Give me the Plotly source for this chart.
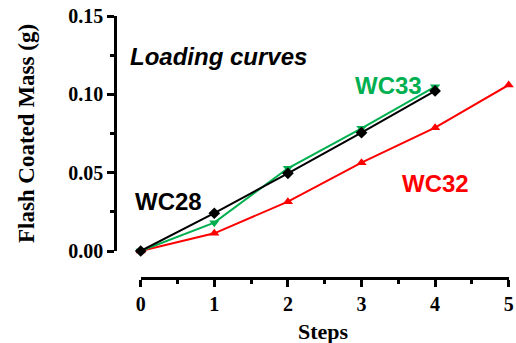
import plotly.graph_objects as go

# Loading curves: flash coated mass per coating step
steps_28 = [0, 1, 2, 3, 4]
mass_28 = [0.0, 0.0241, 0.0496, 0.0755, 0.1022]

steps_33 = [0, 1, 2, 3, 4]
mass_33 = [0.0, 0.0181, 0.0528, 0.0783, 0.1049]

steps_32 = [0, 1, 2, 3, 4, 5]
mass_32 = [0.0, 0.0113, 0.0315, 0.0564, 0.0787, 0.1060]

x_ticks = [0, 1, 2, 3, 4, 5]
y_ticks = [0.0, 0.05, 0.10, 0.15]
y_tick_text = ["0.00", "0.05", "0.10", "0.15"]

W, H = 516, 343
GREEN = "#00B050"
RED = "#FF0000"
BLACK = "#000000"

fig = go.Figure()

fig.add_trace(go.Scatter(
    x=steps_32, y=mass_32, mode="lines+markers", name="WC32",
    line=dict(color=RED, width=2),
    marker=dict(symbol="triangle-up", size=9, color=RED),
    cliponaxis=False,
))
fig.add_trace(go.Scatter(
    x=steps_33, y=mass_33, mode="lines+markers", name="WC33",
    line=dict(color=GREEN, width=2),
    marker=dict(symbol="triangle-down", size=9, color=GREEN),
    cliponaxis=False,
))
fig.add_trace(go.Scatter(
    x=steps_28, y=mass_28, mode="lines+markers", name="WC28",
    line=dict(color=BLACK, width=2),
    marker=dict(symbol="diamond", size=9, color=BLACK),
    cliponaxis=False,
))

tick_font = dict(family="Liberation Serif", size=20, color="black")

# Offset (detached) axes: y axis left of x = 0, x axis below y = 0
fig.update_layout(
    width=W, height=H,
    margin=dict(l=0, r=0, t=0, b=0),
    paper_bgcolor="white", plot_bgcolor="white",
    showlegend=False,
    xaxis=dict(
        domain=[140.7 / W, 508.7 / W],
        range=[0, 5],
        anchor="free", position=(H - 278) / H,
        showgrid=False, zeroline=False,
        showline=True, linecolor="black", linewidth=2.5,
        tickmode="array", tickvals=x_ticks,
        ticktext=["<b>%d</b>" % v for v in x_ticks],
        ticks="outside", ticklen=7, tickwidth=2.5, tickcolor="black",
        minor=dict(dtick=0.5, ticks="outside", ticklen=4, tickwidth=2.5,
                   tickcolor="black", showgrid=False),
        tickfont=tick_font,
        automargin=False,
    ),
    yaxis=dict(
        domain=[(H - 251) / H, (H - 16) / H],
        range=[0, 0.15],
        anchor="free", position=115 / W,
        showgrid=False, zeroline=False,
        showline=True, linecolor="black", linewidth=2.5,
        tickmode="array", tickvals=y_ticks,
        ticktext=["<b>%s</b>" % t for t in y_tick_text],
        ticks="outside", ticklen=7, tickwidth=2.5, tickcolor="black",
        minor=dict(dtick=0.025, ticks="outside", ticklen=4, tickwidth=2.5,
                   tickcolor="black", showgrid=False),
        tickfont=tick_font,
        title=dict(text="<b>Flash Coated Mass (g)</b>",
                   font=dict(family="Liberation Serif", size=23, color="black"),
                   standoff=26),
        automargin=False,
    ),
)

# x-axis title placed as paper text close to the bottom edge
fig.add_annotation(
    x=323.5 / W, y=(H - 331.5) / H, xref="paper", yref="paper",
    text="<b>Steps</b>", showarrow=False,
    font=dict(family="Liberation Serif", size=22, color="black"),
    xanchor="center", yanchor="middle",
)

label_font = "Liberation Sans"
fig.add_annotation(
    x=218 / W, y=(H - 57) / H, xref="paper", yref="paper",
    text="<b><i>Loading curves</i></b>", showarrow=False,
    font=dict(family=label_font, size=24, color="black"),
    xanchor="center", yanchor="middle",
)
fig.add_annotation(
    x=388 / W, y=(H - 85) / H, xref="paper", yref="paper",
    text="<b>WC33</b>", showarrow=False,
    font=dict(family=label_font, size=24, color=GREEN),
    xanchor="center", yanchor="middle",
)
fig.add_annotation(
    x=168.5 / W, y=(H - 201.5) / H, xref="paper", yref="paper",
    text="<b>WC28</b>", showarrow=False,
    font=dict(family=label_font, size=24, color=BLACK),
    xanchor="center", yanchor="middle",
)
fig.add_annotation(
    x=435 / W, y=(H - 183.5) / H, xref="paper", yref="paper",
    text="<b>WC32</b>", showarrow=False,
    font=dict(family=label_font, size=24, color=RED),
    xanchor="center", yanchor="middle",
)

fig.write_html("out.html")
